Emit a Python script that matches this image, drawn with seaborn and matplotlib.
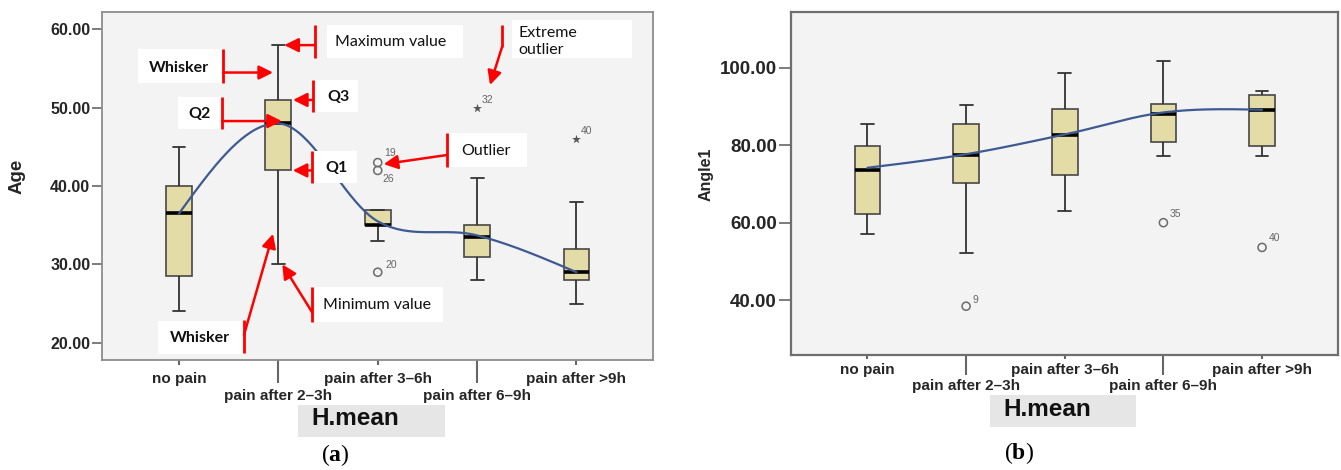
import numpy as np
import pandas as pd
import matplotlib
matplotlib.use("Agg")
import matplotlib.pyplot as plt
from matplotlib.patches import Rectangle
import seaborn as sns

# ---------------------------------------------------------------- data
categories = ["no pain", "pain after 2–3h", "pain after 3–6h",
              "pain after 6–9h", "pain after >9h"]

# Age by pain group: whisker ends, quartiles and median
age_min = [24.0, 30.0, 33.0, 28.0, 25.0]
age_q1 = [28.5, 42.0, 35.0, 31.0, 28.0]
age_med = [36.5, 48.0, 35.0, 33.5, 29.0]
age_q3 = [40.0, 51.0, 37.0, 35.0, 32.0]
age_max = [45.0, 58.0, 37.0, 41.0, 38.0]
age_trend = [36.5, 48.0, 35.5, 33.7, 29.0]
age_out_group = [2, 2, 2]
age_out_value = [43.0, 42.0, 29.0]
age_out_id = ["19", "26", "20"]
age_ext_group = [3, 4]
age_ext_value = [50.0, 46.0]
age_ext_id = ["32", "40"]

# Angle1 by pain group
angle_min = [57.0, 52.1, 62.9, 77.3, 77.3]
angle_q1 = [62.2, 70.2, 72.4, 80.8, 79.7]
angle_med = [73.6, 77.6, 82.8, 88.0, 89.1]
angle_q3 = [79.7, 85.6, 89.4, 90.7, 93.0]
angle_max = [85.6, 90.5, 98.7, 101.9, 94.1]
angle_trend = [74.2, 77.7, 82.8, 88.5, 89.2]
angle_out_group = [1, 3, 4]
angle_out_value = [38.4, 60.0, 53.6]
angle_out_id = ["9", "35", "40"]

# ---------------------------------------------------------------- style
BOX_FILL = "#e3dca6"
BOX_EDGE = "#474747"
TREND = "#3d5a92"
PANEL_BG = "#f3f3f3"
RED = "#ff0000"
GREY_TXT = "#666666"
NOTE_FONT = ["Lato", "DejaVu Sans"]

sns.set_theme(style="ticks")
plt.rcParams["font.family"] = ["Liberation Sans", "DejaVu Sans"]
plt.rcParams["mathtext.fontset"] = "custom"
plt.rcParams["mathtext.rm"] = "Liberation Serif"
plt.rcParams["mathtext.bf"] = "Liberation Serif:bold"

W, H = 1341, 470
fig = plt.figure(figsize=(W / 100, H / 100), dpi=100)
fig.patch.set_facecolor("white")


def px_axes(left, top, right, bottom):
    return fig.add_axes([left / W, 1 - bottom / H, (right - left) / W, (bottom - top) / H])


def summary_frame(lo, q1, med, q3, hi):
    rows = []
    for pos, stats in enumerate(zip(lo, q1, med, q3, hi)):
        for v in stats:
            rows.append((pos, v))
    return pd.DataFrame(rows, columns=["pos", "value"])


def cardinal_curve(values, samples=40):
    y = np.asarray(values, float)
    n = len(y)
    m = np.empty(n)
    m[1:-1] = (y[2:] - y[:-2]) / 2
    m[0] = (3 * (y[1] - y[0]) - m[1]) / 2
    m[-1] = (3 * (y[-1] - y[-2]) - m[-2]) / 2
    xs, ys = [], []
    for i in range(n - 1):
        t = np.linspace(0, 1, samples, endpoint=(i == n - 2))
        h00 = 2 * t**3 - 3 * t**2 + 1
        h10 = t**3 - 2 * t**2 + t
        h01 = -2 * t**3 + 3 * t**2
        h11 = t**3 - t**2
        xs.append(i + t)
        ys.append(h00 * y[i] + h10 * m[i] + h01 * y[i + 1] + h11 * m[i + 1])
    return np.concatenate(xs), np.concatenate(ys)


def draw_panel(ax, stats, trend, outliers, extremes, yticks, ylim,
               ylabel, ylabel_size, ylabel_pos, tick_size, spine_color, spine_lw,
               ytick_len, xtick_len, xpad):
    df = summary_frame(*stats)
    sns.boxplot(data=df, x="pos", y="value", native_scale=True, whis=(0, 100),
                width=0.26, color=BOX_FILL, saturation=1, linecolor=BOX_EDGE,
                linewidth=1.2, showfliers=False,
                medianprops=dict(color="black", linewidth=2.6),
                whiskerprops=dict(color="#333333", linewidth=1.3),
                capprops=dict(color="#333333", linewidth=1.3), ax=ax)

    cx, cy = cardinal_curve(trend)
    sns.lineplot(x=cx, y=cy, sort=False, estimator=None, color=TREND,
                 linewidth=1.6, ax=ax, zorder=4)

    groups, values, ids, offsets = outliers
    sns.scatterplot(x=groups, y=values, marker="o", s=34, fc="none",
                    ec="#6b6b6b", linewidth=1.1, ax=ax, zorder=5)
    for g, v, lab, off in zip(groups, values, ids, offsets):
        ax.annotate(lab, xy=(g, v), xytext=off, textcoords="offset pixels",
                    ha="center", va="center", fontsize=7.5, color=GREY_TXT)
    if extremes is not None:
        groups, values, ids, offsets = extremes
        sns.scatterplot(x=groups, y=values, marker="*", s=45, color="#555555",
                        linewidth=0, ax=ax, zorder=5)
        for g, v, lab, off in zip(groups, values, ids, offsets):
            ax.annotate(lab, xy=(g, v), xytext=off, textcoords="offset pixels",
                        ha="center", va="center", fontsize=7.5, color=GREY_TXT)

    ax.set_facecolor(PANEL_BG)
    ax.set_xlim(-0.775, 4.77)
    ax.set_ylim(*ylim)
    ax.set_yticks(yticks, [f"{t:.2f}" for t in yticks])
    ax.tick_params(axis="y", length=ytick_len, width=1.2, color="#666666",
                   pad=1.2, labelsize=tick_size)
    for lab in ax.get_yticklabels():
        lab.set_fontweight("bold")

    top_row = [0, 2, 4]
    low_row = [1, 3]
    ax.set_xticks(top_row, [categories[i] for i in top_row])
    ax.set_xticks(low_row, [categories[i] for i in low_row], minor=True)
    ax.tick_params(axis="x", which="major", length=xtick_len[0], width=1.5,
                   color="#666666", pad=xpad[0], labelsize=11)
    ax.tick_params(axis="x", which="minor", length=xtick_len[1], width=1.5,
                   color="#666666", pad=xpad[1], labelsize=11)
    for lab in ax.get_xticklabels() + ax.get_xticklabels(minor=True):
        lab.set_fontweight("bold")

    ax.set_xlabel("")
    ax.set_ylabel(ylabel, fontweight="bold", fontsize=ylabel_size)
    ax.yaxis.label.set_verticalalignment("center")
    ax.yaxis.set_label_coords(*ylabel_pos)
    for sp in ax.spines.values():
        sp.set_visible(True)
        sp.set_color(spine_color)
        sp.set_linewidth(spine_lw)


# ---------------------------------------------------------------- panel (a)
ax1 = px_axes(102, 12, 653, 360)
draw_panel(
    ax1, (age_min, age_q1, age_med, age_q3, age_max), age_trend,
    (age_out_group, age_out_value, age_out_id, [(12, 10), (11, -9), (14, 7)]),
    (age_ext_group, age_ext_value, age_ext_id, [(10, 8), (10, 8)]),
    [20, 30, 40, 50, 60], (17.79, 62.23), "Age", 13.5, (-0.154, 0.529),
    11.5, "#8c8c8c", 1.3, 7.2, (3.6, 16.5), (5.0, 4.5))

# callouts explaining the parts of a box plot
callouts = [
    # (box x0, y0, x1, y1), text, text anchor, bold, align
    ((1.49, 56.36, 2.86, 60.57), "Maximum value", (1.57, 58.35), False, "left"),
    ((-0.413, 53.17, 0.433, 57.51), "Whisker", (0.0, 55.1), True, "center"),
    ((1.349, 49.46, 1.802, 53.55), "Q3", (1.60, 51.4), True, "center"),
    ((-0.01, 47.29, 0.433, 51.38), "Q2", (0.21, 49.2), True, "center"),
    ((1.349, 40.40, 1.792, 44.48), "Q1", (1.58, 42.35), True, "center"),
    ((2.698, 42.44, 3.503, 46.78), "Outlier", (2.84, 44.5), False, "left"),
    ((3.352, 56.36, 4.56, 61.21), "Extreme\noutlier", (3.418, 58.5), False, "left"),
    ((1.369, 22.64, 2.657, 27.11), "Minimum value", (1.449, 24.85), False, "left"),
    ((-0.211, 18.55, 0.644, 22.77), "Whisker", (0.21, 20.65), True, "center"),
]
for (x0, y0, x1, y1), text, (tx, ty), bold, ha in callouts:
    ax1.add_patch(Rectangle((x0, y0), x1 - x0, y1 - y0, facecolor="white",
                            edgecolor="none", zorder=6, clip_on=False))
    ax1.text(tx, ty, text, ha=ha, va="center", fontsize=11.5,
             fontweight="bold" if bold else "normal", family=NOTE_FONT,
             color="#111111", linespacing=1.25, zorder=7)

# red brackets (vertical bars) beside each callout
brackets = [
    (1.369, 56.36, 60.57), (0.443, 53.17, 57.51), (1.349, 49.46, 53.55),
    (0.433, 47.29, 51.38), (1.339, 40.40, 44.48), (2.698, 42.44, 46.78),
    (1.339, 22.64, 27.11), (0.654, 18.68, 22.90), (3.251, 57.77, 60.57),
]
for bx, b0, b1 in brackets:
    ax1.plot([bx, bx], [b0, b1], color=RED, lw=2.0, solid_capstyle="butt",
             zorder=8, clip_on=False)

# red arrows from the brackets to the box-plot features
arrows = [
    ((1.369, age_max[1]), (1.06, age_max[1])),
    ((0.443, (age_q3[1] + age_max[1]) / 2), (0.946, (age_q3[1] + age_max[1]) / 2)),
    ((1.349, age_q3[1]), (1.147, age_q3[1])),
    ((0.433, age_med[1] + 0.3), (1.035, age_med[1] + 0.3)),
    ((1.339, age_q1[1]), (1.145, age_q1[1])),
    ((2.698, 43.97), (2.06, 42.8)),
    ((3.251, 57.77), (3.13, 52.91)),
    ((1.339, 23.9), (1.04, age_min[1])),
    ((0.654, 21.0), (0.946, 33.9)),
]
for tail, head in arrows:
    ax1.annotate("", xy=head, xytext=tail,
                 arrowprops=dict(arrowstyle="-|>,head_length=0.6,head_width=0.3",
                                 color=RED, lw=1.8, mutation_scale=14,
                                 shrinkA=0, shrinkB=0),
                 zorder=8, annotation_clip=False)

# ---------------------------------------------------------------- panel (b)
ax2 = px_axes(791, 12, 1338, 355)
draw_panel(
    ax2, (angle_min, angle_q1, angle_med, angle_q3, angle_max), angle_trend,
    (angle_out_group, angle_out_value, angle_out_id, [(9, 6), (12, 9), (12, 9)]),
    None,
    [40, 60, 80, 100], (25.78, 114.48), "Angle1", 11.5, (-0.155, 0.526),
    13.5, "#6e6e6e", 1.6, 9.0, (3.0, 14.4), (3.0, 3.0))

# ---------------------------------------------------------------- axis titles and panel letters
for (x0, y0, x1, y1), tx, ty in [((298, 405, 445, 437), 311, 418.5),
                                  ((990, 395, 1136, 427), 1003, 410)]:
    fig.patches.append(Rectangle((x0 / W, 1 - y1 / H), (x1 - x0) / W, (y1 - y0) / H,
                                 transform=fig.transFigure, facecolor="#e6e6e6",
                                 edgecolor="none"))
    fig.text(tx / W, 1 - ty / H, "H.mean", ha="left", va="center",
             fontsize=17.5, fontweight="bold", color="#111111")

for letter, x, y in [("a", 335, 455), ("b", 1019, 453)]:
    fig.text(x / W, 1 - y / H, rf"($\mathbf{{{letter}}}$)", ha="center", va="center",
             fontsize=17, family="Liberation Serif", color="black")

fig.savefig("out.png", dpi=100, facecolor="white")
